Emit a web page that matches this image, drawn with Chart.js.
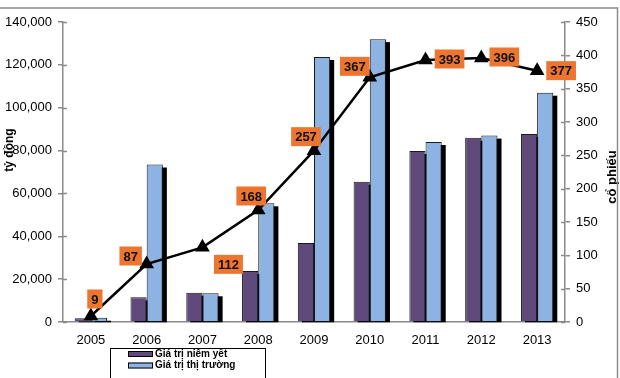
<!DOCTYPE html>
<html>
<head>
<meta charset="utf-8">
<script src="https://cdn.jsdelivr.net/npm/chart.js@4.4.0/dist/chart.umd.min.js"></script>
<style>
  html, body { margin: 0; padding: 0; background: #fff; }
  #wrap { width: 620px; height: 378px; position: relative; }
</style>
</head>
<body>
<div id="wrap"><canvas id="c" width="620" height="378"></canvas></div>
<script>
// ---- Data ----
const years = ['2005', '2006', '2007', '2008', '2009', '2010', '2011', '2012', '2013'];
const listedValue = [1700, 11500, 13700, 23800, 36900, 65500, 79800, 86000, 87700];   // Giá trị niêm yết (tỷ đồng)
const marketValue = [2000, 73500, 13400, 55400, 123700, 132000, 84000, 87000, 107000]; // Giá trị thị trường (tỷ đồng)
const stockCount = [9, 87, 112, 168, 257, 367, 393, 396, 377];                         // số cổ phiếu
const seriesNames = ['Giá trị niêm yết', 'Giá trị thị trường'];
const leftAxisTitle = 'tỷ đồng';
const rightAxisTitle = 'cổ phiếu';

// label box offsets relative to the point (style)
const labelOffsets = [[4, -17], [-16, -8], [26, 17], [-7, -14], [-8, -14], [-15, -11], [24, -1], [23, -1], [24, 0]];

const PURPLE = '#604A7B';
const BLUE = '#8DB3E2';
const ORANGE = '#EC7530';
const AXIS = '#8a8a8a';
const FONT = '"Liberation Sans", Arial, sans-serif';

// draw all bar shadows first, under every bar
const shadowPlugin = {
  id: 'barShadow',
  beforeDatasetsDraw(chart) {
    const ctx = chart.ctx;
    ctx.save();
    ctx.fillStyle = '#000';
    [0, 1].forEach(di => {
      const meta = chart.getDatasetMeta(di);
      meta.data.forEach(bar => {
        const p = bar.getProps(['x', 'y', 'base', 'width'], true);
        const left = p.x - p.width / 2 + 4;
        ctx.fillRect(left, p.y + 3, p.width, Math.max(0, p.base - p.y - 2));
      });
    });
    ctx.restore();
  }
};

const decorPlugin = {
  id: 'decor',
  afterDraw(chart) {
    const ctx = chart.ctx;
    const area = chart.chartArea;
    // inner tick marks
    ctx.save();
    ctx.strokeStyle = AXIS;
    ctx.lineWidth = 1.5;
    const y = chart.scales.y, y1 = chart.scales.y1;
    y.ticks.forEach(t => {
      const py = Math.round(y.getPixelForValue(t.value)) + 0.5;
      ctx.beginPath(); ctx.moveTo(area.left, py); ctx.lineTo(area.left + 4, py); ctx.stroke();
    });
    y1.ticks.forEach(t => {
      const py = Math.round(y1.getPixelForValue(t.value)) + 0.5;
      ctx.beginPath(); ctx.moveTo(area.right - 4, py); ctx.lineTo(area.right, py); ctx.stroke();
    });
    ctx.restore();

    // data labels
    const meta = chart.getDatasetMeta(2);
    ctx.save();
    ctx.font = 'bold 13px ' + FONT;
    ctx.textAlign = 'center';
    ctx.textBaseline = 'middle';
    meta.data.forEach((pt, i) => {
      const txt = String(stockCount[i]);
      const w = ctx.measureText(txt).width + 8;
      const h = 19;
      const cx = pt.x + labelOffsets[i][0];
      const cy = pt.y + labelOffsets[i][1];
      ctx.fillStyle = ORANGE;
      ctx.fillRect(cx - w / 2, cy - h / 2, w, h);
      ctx.fillStyle = '#111';
      ctx.fillText(txt, cx, cy + 1);
    });
    ctx.restore();

    // axis titles
    ctx.save();
    ctx.fillStyle = '#000';
    ctx.font = 'bold 12px ' + FONT;
    ctx.textAlign = 'center';
    ctx.textBaseline = 'middle';
    ctx.translate(10, 150);
    ctx.rotate(-Math.PI / 2);
    ctx.fillText(leftAxisTitle, 0, 0);
    ctx.restore();
    ctx.save();
    ctx.fillStyle = '#000';
    ctx.font = 'bold 13px ' + FONT;
    ctx.textAlign = 'center';
    ctx.textBaseline = 'middle';
    ctx.translate(612, 177);
    ctx.rotate(-Math.PI / 2);
    ctx.fillText(rightAxisTitle, 0, 0);
    ctx.restore();

    // legend
    ctx.save();
    ctx.fillStyle = '#fff';
    ctx.fillRect(110.5, 348.5, 155, 40);
    ctx.strokeStyle = '#000';
    ctx.lineWidth = 1;
    ctx.strokeRect(110.5, 348.5, 155, 40);
    const colors = [PURPLE, BLUE];
    ctx.font = 'bold 10px ' + FONT;
    ctx.textAlign = 'left';
    ctx.textBaseline = 'middle';
    seriesNames.forEach((name, i) => {
      const ry = 351 + i * 11.5;
      ctx.fillStyle = colors[i];
      ctx.fillRect(128, ry, 25, 6);
      ctx.strokeStyle = '#000';
      ctx.strokeRect(128.5, ry + 0.5, 24, 5);
      ctx.fillStyle = '#000';
      ctx.fillText(name, 155, ry + 3);
    });
    ctx.restore();

    // frame
    ctx.save();
    ctx.strokeStyle = '#8c8c8c';
    ctx.lineWidth = 1.5;
    ctx.beginPath();
    ctx.moveTo(0, 8); ctx.lineTo(617.5, 8); ctx.lineTo(617.5, 378);
    ctx.stroke();
    ctx.restore();
  }
};

new Chart(document.getElementById('c'), {
  data: {
    labels: years,
    datasets: [
      {
        type: 'bar', label: seriesNames[0], data: listedValue, yAxisID: 'y',
        backgroundColor: PURPLE, borderColor: '#1a1a1a', borderWidth: 1,
        barPercentage: 1, categoryPercentage: 0.58, order: 1
      },
      {
        type: 'bar', label: seriesNames[1], data: marketValue, yAxisID: 'y',
        backgroundColor: BLUE, borderColor: '#1a1a1a', borderWidth: 1,
        barPercentage: 1, categoryPercentage: 0.58, order: 1
      },
      {
        type: 'line', label: 'cổ phiếu', data: stockCount, yAxisID: 'y1',
        borderColor: '#000', backgroundColor: '#000', borderWidth: 2.5,
        pointStyle: 'triangle', pointRadius: 6, pointHoverRadius: 6,
        tension: 0, order: 0
      }
    ]
  },
  options: {
    responsive: false,
    animation: false,
    events: [],
    layout: { padding: { top: 22, left: 0, right: 0, bottom: 0 } },
    plugins: { legend: { display: false }, tooltip: { enabled: false } },
    scales: {
      x: {
        grid: { display: false },
        border: { display: true, color: AXIS, width: 1.5 },
        ticks: { color: '#000', font: { family: FONT, size: 13 }, padding: 3, maxRotation: 0 },
        afterFit(s) { s.height = 56; }
      },
      y: {
        position: 'left', min: 0, max: 140000,
        grid: { drawOnChartArea: false, drawTicks: true, tickLength: 5, color: AXIS, lineWidth: 1.5 },
        border: { display: true, color: AXIS, width: 1.5 },
        ticks: {
          stepSize: 20000, color: '#000', padding: 6, font: { family: FONT, size: 13 },
          callback: v => v.toLocaleString('en-US')
        },
        afterFit(s) { s.width = 63; }
      },
      y1: {
        position: 'right', min: 0, max: 450,
        grid: { drawOnChartArea: false, drawTicks: true, tickLength: 5, color: AXIS, lineWidth: 1.5 },
        border: { display: true, color: AXIS, width: 1.5 },
        ticks: { stepSize: 50, color: '#000', padding: 6, font: { family: FONT, size: 13 } },
        afterFit(s) { s.width = 55; }
      }
    }
  },
  plugins: [shadowPlugin, decorPlugin]
});
</script>
</body>
</html>
